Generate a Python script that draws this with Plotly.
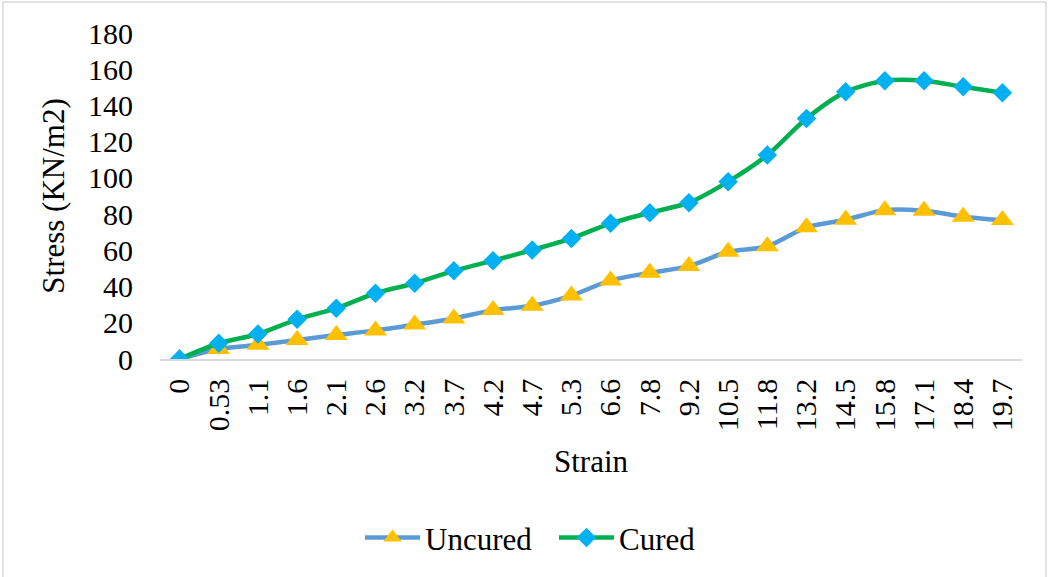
import plotly.graph_objects as go

# Strain categories and measured stress (KN/m2)
strain = ["0", "0.53", "1.1", "1.6", "2.1", "2.6", "3.2", "3.7", "4.2", "4.7", "5.3",
          "6.6", "7.8", "9.2", "10.5", "11.8", "13.2", "14.5", "15.8", "17.1", "18.4", "19.7"]
uncured = [0, 5.5, 7.8, 10.5, 13.2, 15.8, 19, 22.4, 27, 29.4, 35,
           43.4, 47.6, 51.3, 59.2, 62.2, 72.7, 76.9, 82.2, 81.8, 78.6, 76.7]
cured = [0, 8.7, 13.8, 21.9, 28, 36.3, 41.8, 48.7, 54.3, 60.2, 66.6,
         74.9, 80.8, 86.3, 97.9, 112.6, 132.8, 147.5, 153.6, 153.6, 150.3, 147]

FONT = "Liberation Serif, Times New Roman, serif"
W, H = 1050, 577
ML, MR, MT, MB = 160, 28, 33, 218

fig = go.Figure()
fig.add_trace(go.Scatter(
    x=strain, y=uncured, name="Uncured", mode="lines+markers",
    line=dict(color="#5B9BD5", width=4.5, shape="spline", smoothing=0.8),
    marker=dict(symbol="triangle-up", size=20, color="#FFC000"),
))
fig.add_trace(go.Scatter(
    x=strain, y=cured, name="Cured", mode="lines+markers",
    line=dict(color="#00B050", width=4.5, shape="spline", smoothing=0.8),
    marker=dict(symbol="diamond", size=15, color="#00B0F0"),
))

# light frame around the whole chart
pw, ph = W - ML - MR, H - MT - MB
fig.add_shape(
    type="rect", xref="paper", yref="paper", layer="below",
    x0=(3 - ML) / pw, x1=(1046 - ML) / pw,
    y0=(MB - 574) / ph, y1=1 + (MT - 2) / ph,
    line=dict(color="#D9D9D9", width=1.5), fillcolor="rgba(0,0,0,0)",
)

fig.update_layout(
    width=W, height=H,
    margin=dict(l=ML, r=MR, t=MT, b=MB),
    paper_bgcolor="white", plot_bgcolor="white",
    font=dict(family=FONT, size=30, color="black"),
    showlegend=True,
    legend=dict(
        orientation="h", xref="container", yref="container",
        x=360 / W, xanchor="left", y=0.068, yanchor="middle",
        font=dict(size=31), itemwidth=55, entrywidth=124, entrywidthmode="pixels",
        bgcolor="rgba(0,0,0,0)",
    ),
    xaxis=dict(
        type="category", range=[-0.5, len(strain) - 0.5],
        tickangle=-90, showgrid=False, showline=True, linecolor="#D9D9D9",
        linewidth=1.5, ticks="", ticklabelstandoff=6,
        title=dict(text="Strain", font=dict(size=31), standoff=20),
        zeroline=False,
    ),
    yaxis=dict(
        range=[0, 180], dtick=20, showgrid=False, showline=False, ticks="",
        zeroline=False, ticklabelstandoff=26,
        title=dict(text="Stress (KN/m2)", font=dict(size=31), standoff=14),
    ),
)

fig.write_html("out.html")
